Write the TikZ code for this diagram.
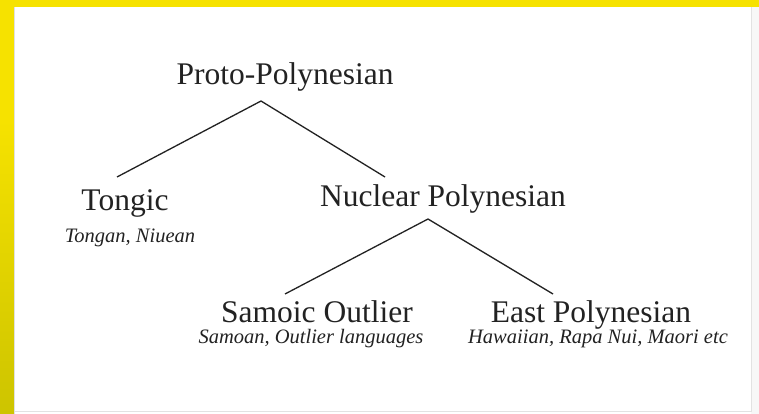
\documentclass[tikz,border=0pt]{standalone}
\usepackage{fontspec}
\setmainfont{Liberation Serif}
\usetikzlibrary{positioning}

\definecolor{frameyellow}{RGB}{246,226,0}
\definecolor{frameolive}{RGB}{205,196,0}
\definecolor{inktext}{RGB}{34,34,34}
\definecolor{panelrim}{RGB}{226,226,226}

\begin{document}
\begin{tikzpicture}[
    x=1pt, y=-1pt,
    lang/.style={anchor=base, inner sep=0pt, text=inktext,
        font=\fontsize{31.5}{36}\selectfont},
    members/.style={anchor=base, inner sep=0pt, text=inktext,
        font=\fontsize{20.5}{24}\selectfont\itshape},
    branch/.style={draw=inktext, line width=1.3pt}
]
\useasboundingbox (0,0) rectangle (759,414);

% yellow frame and white panel
\fill[frameyellow] (0,0) rectangle (759,414);
\shade[top color=frameyellow, bottom color=frameolive] (0,120) rectangle (14,414);
\fill[white] (14,7) rectangle (759,414);
\fill[black!3] (751,7) rectangle (759,414);
\draw[panelrim, line width=1pt] (751,7) -- (751,411) -- (14,411);
\draw[black!12, line width=1pt] (14.5,7) -- (14.5,414);

% languages
\node (Proto) [lang] at (285,85) {Proto-Polynesian};
\node (Tongic) [lang] at (125,210) {Tongic};
\node (TongicMembers) [members] at (130,242) {Tongan, Niuean};
\node (Nuclear) [lang] at (443,206) {Nuclear Polynesian};
\node (Samoic) [lang] at (317,322) {Samoic Outlier};
\node (SamoicMembers) [members] at (311,343) {Samoan, Outlier languages};
\node (East) [lang] at (591,322) {East Polynesian};
\node (EastMembers) [members] at (598,343) {Hawaiian, Rapa Nui, Maori etc};

% forks
\coordinate (ProtoFork) at (261,101);
\coordinate (TongicTop) at (117,177);
\coordinate (NuclearTop) at (385,177);
\coordinate (NuclearFork) at (428,219);
\coordinate (SamoicTop) at (285,294);
\coordinate (EastTop) at (553,294);

\draw[branch] (TongicTop) -- (ProtoFork) -- (NuclearTop);
\draw[branch] (SamoicTop) -- (NuclearFork) -- (EastTop);
\end{tikzpicture}
\end{document}
